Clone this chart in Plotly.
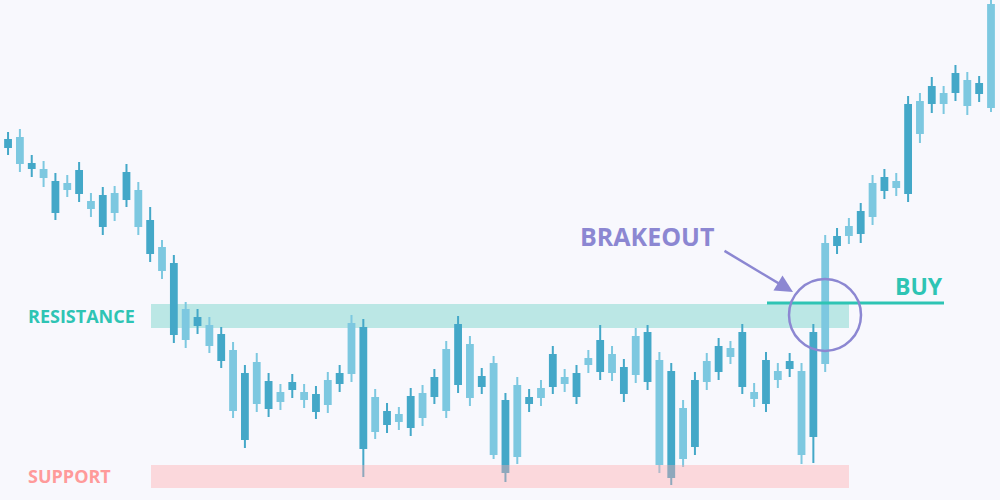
import plotly.graph_objects as go

# Candle data (price units)
opens = [360, 337, 336, 323, 318, 311, 329, 292, 304, 288, 327, 274, 279, 230, 236, 161, 182, 155, 165, 90,
         126, 97, 118, 99, 117, 101, 105, 96, 126, 127, 172, 69, 88, 79, 103, 83, 122, 90, 175, 103,
         123, 46, 99, 44, 102, 103, 145, 117, 126, 136, 159, 128, 132, 126, 167, 36, 128, 42, 119, 119,
         153, 144, 167, 102, 139, 121, 138, 46, 167, 137, 263, 265, 288, 284, 322, 313, 395, 367, 413, 397,
         426, 395, 416, 393]
highs = [368, 371, 345, 339, 327, 325, 338, 307, 313, 314, 336, 318, 293, 260, 245, 198, 191, 183, 173, 158,
         135, 147, 127, 116, 126, 116, 114, 128, 135, 185, 181, 111, 97, 93, 112, 115, 131, 159, 184, 164,
         132, 144, 107, 123, 111, 120, 154, 131, 135, 150, 175, 154, 141, 172, 175, 148, 137, 100, 128, 147,
         162, 159, 176, 117, 148, 137, 147, 137, 176, 265, 272, 282, 297, 325, 331, 327, 404, 407, 423, 414,
         435, 428, 424, 503]
lows = [345, 328, 323, 313, 280, 303, 298, 283, 265, 279, 293, 265, 238, 221, 157, 152, 166, 147, 132, 82,
        52, 88, 83, 90, 102, 92, 81, 87, 108, 118, 23, 61, 67, 70, 64, 74, 96, 82, 107, 94,
        106, 41, 18, 36, 88, 94, 106, 108, 96, 127, 120, 119, 98, 117, 110, 27, 15, 33, 45, 110,
        120, 136, 106, 93, 88, 112, 123, 36, 37, 128, 246, 256, 257, 275, 301, 304, 298, 357, 387, 386,
        399, 385, 398, 388]
closes = [353, 362, 332, 330, 288, 316, 307, 298, 274, 306, 301, 309, 247, 252, 166, 190, 175, 174, 140, 149,
          61, 137, 92, 107, 111, 107, 89, 119, 117, 176, 52, 102, 76, 85, 73, 106, 104, 150, 116, 155,
          114, 136, 28, 114, 97, 111, 114, 122, 104, 141, 129, 145, 107, 163, 119, 139, 23, 91, 54, 138,
          129, 151, 114, 107, 97, 128, 132, 128, 64, 256, 255, 273, 267, 316, 310, 318, 307, 398, 397, 406,
          408, 419, 407, 495]

resistance_zone = [172, 196]
support_zone = [12, 35]
buy_level = 197

DARK = "#44a8c8"
LIGHT = "#7dc8e0"
TEAL = "#2ec4b4"
PURPLE = "#8c87d2"
PINK = "#ff9a9a"
BG = "#f8f8fd"

x = list(range(len(opens)))

fig = go.Figure()
fig.add_trace(go.Candlestick(
    x=x, open=opens, high=highs, low=lows, close=closes,
    increasing=dict(line=dict(color=LIGHT, width=2), fillcolor=LIGHT),
    decreasing=dict(line=dict(color=DARK, width=2), fillcolor=DARK),
    whiskerwidth=0, showlegend=False, hoverinfo="skip",
))

# Resistance band (below candles)
fig.add_shape(type="rect", xref="paper", yref="y", x0=0.151, x1=0.849,
              y0=resistance_zone[0], y1=resistance_zone[1],
              fillcolor="#bbe7e5", line=dict(width=0), layer="below")
# Support band (above candles, translucent)
fig.add_shape(type="rect", xref="paper", yref="y", x0=0.151, x1=0.849,
              y0=support_zone[0], y1=support_zone[1],
              fillcolor="#ffa8aa", opacity=0.4, line=dict(width=0), layer="above")
# Buy line
fig.add_shape(type="line", xref="paper", yref="y", x0=0.767, x1=0.944,
              y0=buy_level, y1=buy_level, line=dict(color=TEAL, width=3))
# Circle
fig.add_shape(type="circle", xref="paper", yref="paper",
              x0=0.789, x1=0.861, y0=1 - 351 / 500, y1=1 - 279 / 500,
              line=dict(color=PURPLE, width=2.5))

font_family = "Open Sans"
fig.add_annotation(xref="paper", yref="paper", x=0.026, y=1 - 316 / 500, xanchor="left", yanchor="middle",
                   text="<b>RESISTANCE</b>", showarrow=False,
                   font=dict(family=font_family, size=18, color=TEAL))
fig.add_annotation(xref="paper", yref="paper", x=0.026, y=1 - 476 / 500, xanchor="left", yanchor="middle",
                   text="<b>SUPPORT</b>", showarrow=False,
                   font=dict(family=font_family, size=18, color=PINK))
fig.add_annotation(xref="paper", yref="paper", x=0.578, y=1 - 236 / 500, xanchor="left", yanchor="middle",
                   text="<b>BRAKEOUT</b>", showarrow=False,
                   font=dict(family=font_family, size=25, color=PURPLE))
fig.add_annotation(xref="paper", yref="paper", x=0.893, y=1 - 286 / 500, xanchor="left", yanchor="middle",
                   text="<b>BUY</b>", showarrow=False,
                   font=dict(family=font_family, size=23, color=TEAL))
# Arrow
fig.add_annotation(xref="paper", yref="paper", x=0.793, y=1 - 292 / 500,
                   ax=-70, ay=-42, text="", showarrow=True,
                   arrowhead=2, arrowsize=1.4, arrowwidth=2.5, arrowcolor=PURPLE)

fig.update_layout(
    width=1000, height=500,
    margin=dict(l=0, r=0, t=0, b=0),
    paper_bgcolor=BG, plot_bgcolor=BG,
    xaxis=dict(range=[-0.68, 83.76], visible=False, rangeslider=dict(visible=False),
               showgrid=False, zeroline=False, fixedrange=True),
    yaxis=dict(range=[0, 500], visible=False, showgrid=False, zeroline=False, fixedrange=True),
    showlegend=False,
)

fig.write_html("out.html", config={"displayModeBar": False},
               post_script="document.body.style.margin='0';document.body.style.background='" + BG + "';")
